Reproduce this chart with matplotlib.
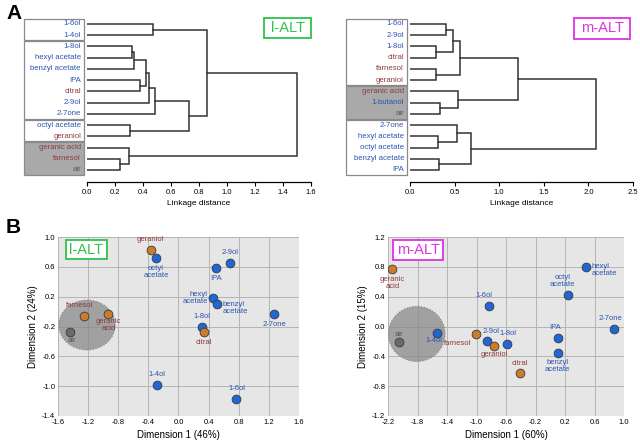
import numpy as np
import matplotlib.pyplot as plt
from matplotlib.patches import Rectangle, Ellipse
import matplotlib.transforms as mtransforms

BLUE = '#2a55b0'
BROWN = '#8c3c3c'
GREY = '#555555'
DOT_BLUE = '#1f66d6'
DOT_BROWN = '#c97b2e'
DOT_GREY = '#6a6a6a'

# ---------------- data: dendrograms ----------------
left_leaves = ['1-6ol', '1-4ol', '1-8ol', 'hexyl acetate', 'benzyl acetate', 'IPA',
               'citral', '2-9ol', '2-7one', 'octyl acetate', 'geraniol',
               'geranic acid', 'farnesol', 'air']
left_kind = ['b', 'b', 'b', 'b', 'b', 'b', 'r', 'b', 'b', 'b', 'r', 'r', 'r', 'g']
# merges: (cluster a, cluster b, linkage distance); new clusters numbered after leaves
left_merges = [(0, 1, 0.468), (2, 3, 0.318), (15, 4, 0.334), (5, 6, 0.377),
               (16, 17, 0.42), (18, 7, 0.44), (19, 8, 0.487), (9, 10, 0.306),
               (20, 21, 0.73), (14, 22, 0.86), (12, 13, 0.234), (11, 24, 0.303),
               (23, 25, 1.50)]
left_groups = [(0, 1, 'w'), (2, 8, 'w'), (9, 10, 'w'), (11, 13, 'g')]

right_leaves = ['1-6ol', '2-9ol', '1-8ol', 'citral', 'farnesol', 'geraniol',
                'geranic acid', '1-butanol', 'air', '2-7one', 'hexyl acetate',
                'octyl acetate', 'benzyl acetate', 'IPA']
right_kind = ['b', 'b', 'b', 'r', 'r', 'r', 'r', 'b', 'g', 'b', 'b', 'b', 'b', 'b']
right_merges = [(0, 1, 0.40), (2, 3, 0.29), (14, 15, 0.478), (4, 5, 0.29),
                (16, 17, 0.56), (7, 8, 0.336), (6, 19, 0.54), (18, 20, 1.216),
                (10, 11, 0.317), (9, 22, 0.53), (12, 13, 0.325), (23, 24, 0.687),
                (21, 25, 2.08)]
right_groups = [(0, 5, 'w'), (6, 8, 'g'), (9, 13, 'w')]

# ---------------- data: MDS scatter ----------------
l_names = ['geraniol', 'octyl acetate', '2-9ol', 'IPA', 'hexyl acetate', 'benzyl acetate',
           '2-7one', '1-8ol', 'citral', 'farnesol', 'geranic acid', 'air', '1-4ol', '1-6ol']
l_x = [-0.37, -0.30, 0.69, 0.50, 0.46, 0.515, 1.27, 0.31, 0.34, -1.26, -0.93, -1.44, -0.29, 0.77]
l_y = [0.83, 0.72, 0.65, 0.58, 0.185, 0.10, -0.03, -0.20, -0.28, -0.06, -0.03, -0.27, -0.99, -1.17]
l_kind = ['r', 'b', 'b', 'b', 'b', 'b', 'b', 'b', 'r', 'r', 'r', 'g', 'b', 'b']

m_names = ['geranic acid', 'hexyl acetate', 'octyl acetate', '1-6ol', '2-7one', '1-4ol', 'air',
           'farnesol', '2-9ol', 'geraniol', '1-8ol', 'IPA', 'benzyl acetate', 'citral']
m_x = [-2.14, 0.49, 0.24, -0.83, 0.86, -1.54, -2.05, -1.01, -0.86, -0.76, -0.58, 0.10, 0.10, -0.41]
m_y = [0.77, 0.80, 0.425, 0.28, -0.03, -0.09, -0.21, -0.10, -0.19, -0.26, -0.23, -0.16, -0.36, -0.63]
m_kind = ['r', 'b', 'b', 'b', 'b', 'b', 'g', 'r', 'b', 'r', 'b', 'b', 'b', 'r']

txt_col = {'b': BLUE, 'r': BROWN, 'g': GREY}
dot_col = {'b': DOT_BLUE, 'r': DOT_BROWN, 'g': DOT_GREY}

# label placement (offset in points, alignment)
l_lab = {'geraniol': ('geraniol', 0, 5, 'center', 'bottom'),
         'octyl acetate': ('octyl\nacetate', 0, -5, 'center', 'top'),
         '2-9ol': ('2-9ol', 0, 5, 'center', 'bottom'),
         'IPA': ('IPA', 0, -5, 'center', 'top'),
         'hexyl acetate': ('hexyl\nacetate', -4, 0, 'right', 'center'),
         'benzyl acetate': ('benzyl\nacetate', 4, -3, 'left', 'center'),
         '2-7one': ('2-7one', 0, -5, 'center', 'top'),
         '1-8ol': ('1-8ol', 0, 5, 'center', 'bottom'),
         'citral': ('citral', 0, -5, 'center', 'top'),
         'farnesol': ('farnesol', -3, 5, 'center', 'bottom'),
         'geranic acid': ('geranic\nacid', 0, -3, 'center', 'top'),
         'air': ('air', 1, -4, 'center', 'top'),
         '1-4ol': ('1-4ol', 0, 5, 'center', 'bottom'),
         '1-6ol': ('1-6ol', 0, 5, 'center', 'bottom')}
m_lab = {'geranic acid': ('geranic\nacid', 0, -5, 'center', 'top'),
         'hexyl acetate': ('hexyl\nacetate', 4, 3, 'left', 'top'),
         'octyl acetate': ('octyl\nacetate', -4, 5, 'center', 'bottom'),
         '1-6ol': ('1-6ol', -4, 5, 'center', 'bottom'),
         '2-7one': ('2-7one', -2, 5, 'center', 'bottom'),
         '1-4ol': ('1-4ol', -2, -3, 'center', 'top'),
         'air': ('air', 0, 3, 'center', 'bottom'),
         'farnesol': ('farnesol', -3, -4, 'right', 'top'),
         '2-9ol': ('2-9ol', 3, 4, 'center', 'bottom'),
         'geraniol': ('geraniol', 0, -4, 'center', 'top'),
         '1-8ol': ('1-8ol', 0, 5, 'center', 'bottom'),
         'IPA': ('IPA', -2, 5, 'center', 'bottom'),
         'benzyl acetate': ('benzyl\nacetate', 0, -4, 'center', 'top'),
         'citral': ('citral', 0, 5, 'center', 'bottom')}

W, H = 640, 445
fig = plt.figure(figsize=(6.4, 4.45), dpi=100)
plt.rcParams['font.family'] = ['Liberation Sans', 'DejaVu Sans']


def px_axes(x0, y0, x1, y1):
    return fig.add_axes([x0 / W, 1 - y1 / H, (x1 - x0) / W, (y1 - y0) / H])


def fmt1(v):
    return '%.1f' % (round(v, 1) + 0.0)


def dendro(ax, leaves, kinds, merges, groups, xmax, xticks, box_x0):
    n = len(leaves)
    pos = {i: (0.0, float(i)) for i in range(n)}
    for k, (a, b, h) in enumerate(merges):
        xa, ya = pos[a]
        xb, yb = pos[b]
        ax.plot([xa, h, h, xb], [ya, ya, yb, yb], color='#333333', lw=1.1,
                solid_joinstyle='miter')
        pos[n + k] = (h, (ya + yb) / 2)
    ax.set_xlim(0, xmax)
    ax.set_ylim(n - 1 + 1.07, -0.89)
    ax.set_xticks(xticks)
    ax.set_xticklabels([fmt1(t) for t in xticks], fontsize=5.5)
    ax.tick_params(axis='x', direction='out', length=3, width=0.8, pad=2)
    ax.set_yticks([])
    for s in ['top', 'right', 'left']:
        ax.spines[s].set_visible(False)
    ax.spines['bottom'].set_linewidth(0.9)
    ax.set_xlabel('Linkage distance', fontsize=6, labelpad=3)
    tr = mtransforms.blended_transform_factory(ax.transAxes, ax.transData)
    bw = ax.get_position().width * W
    for i, (lab, k) in enumerate(zip(leaves, kinds)):
        ax.text(-6 / bw, i, lab, transform=tr, ha='right', va='center',
                fontsize=5.6, color=txt_col[k])
    for (i0, i1, face) in groups:
        x0 = -(box_x0) / bw
        rect = Rectangle((x0, i0 - 0.45), -3 / bw - x0, (i1 - i0) + 0.9,
                         transform=tr, facecolor='#a9a9a9' if face == 'g' else 'white',
                         edgecolor='#8a8a8a', lw=0.9, clip_on=False, zorder=0)
        ax.add_patch(rect)


axA1 = px_axes(87, 14, 311, 182)
dendro(axA1, left_leaves, left_kind, left_merges, left_groups, 1.6,
       np.arange(0, 1.61, 0.2), 63)
axA2 = px_axes(410, 14, 633, 182)
dendro(axA2, right_leaves, right_kind, right_merges, right_groups, 2.5,
       np.arange(0, 2.51, 0.5), 64)


def tag(x0, y0, x1, y1, text, color):
    fig.patches.append(Rectangle((x0 / W, 1 - y1 / H), (x1 - x0) / W, (y1 - y0) / H,
                                 transform=fig.transFigure, facecolor='white',
                                 edgecolor=color, lw=1.3, zorder=5))
    fig.text((x0 + x1) / 2 / W, 1 - (y0 + y1) / 2 / H, text, ha='center', va='center',
             fontsize=10.5, color=color, zorder=6)


tag(264, 18, 311, 38, 'l-ALT', '#2ec24a')
tag(574, 18, 630, 39, 'm-ALT', '#e030e0')


def scatter_panel(ax, names, xs, ys, kinds, labs, xlim, ylim, xt, yt, xlabel, ylabel, circ):
    ax.set_facecolor('#e6e6e6')
    ax.set_xlim(*xlim)
    ax.set_ylim(*ylim)
    ax.set_xticks(xt)
    ax.set_yticks(yt)
    ax.set_xticklabels([fmt1(v) for v in xt], fontsize=5.5)
    ax.set_yticklabels([fmt1(v) for v in yt], fontsize=5.5)
    ax.tick_params(length=0, pad=2)
    ax.grid(True, color='#b4b4b4', lw=0.7)
    ax.set_axisbelow(True)
    for s in ax.spines.values():
        s.set_visible(False)
    ax.set_xlabel(xlabel, fontsize=7, labelpad=3)
    ax.set_ylabel(ylabel, fontsize=7, labelpad=3)
    ax.add_patch(Ellipse(circ[:2], circ[2], circ[3], facecolor='#8a8a8a', alpha=0.75,
                         edgecolor='#777777', lw=0.8, ls=':', zorder=2))
    for nm, x, y, k in zip(names, xs, ys, kinds):
        ax.scatter(x, y, s=40, color=dot_col[k], edgecolor='#3a3a3a', lw=0.6, zorder=4)
        t, dx, dy, ha, va = labs[nm]
        ax.annotate(t, (x, y), xytext=(dx, dy), textcoords='offset points', ha=ha, va=va,
                    fontsize=5.5, color=txt_col[k], linespacing=1.0, zorder=5)


axB1 = px_axes(58, 237, 299, 416)
scatter_panel(axB1, l_names, l_x, l_y, l_kind, l_lab, (-1.6, 1.6), (-1.4, 1.0),
              np.arange(-1.6, 1.61, 0.4), np.arange(-1.4, 1.01, 0.4),
              'Dimension 1 (46%)', 'Dimension 2 (24%)', (-1.215, -0.18, 0.75, 0.67))
axB2 = px_axes(388, 237, 624, 416)
scatter_panel(axB2, m_names, m_x, m_y, m_kind, m_lab, (-2.2, 1.0), (-1.2, 1.2),
              np.arange(-2.2, 1.01, 0.4), np.arange(-1.2, 1.21, 0.4),
              'Dimension 1 (60%)', 'Dimension 2 (15%)', (-1.81, -0.10, 0.77, 0.74))

tag(66, 240, 107, 259, 'l-ALT', '#2ec24a')
tag(393, 240, 443, 260, 'm-ALT', '#e030e0')

fig.text(6 / W, 1 - 4 / H, 'A', fontsize=15, fontweight='bold', va='top', ha='left')
fig.text(6 / W, 1 - 218 / H, 'B', fontsize=15, fontweight='bold', va='top', ha='left')

fig.savefig('out.png', dpi=100)
